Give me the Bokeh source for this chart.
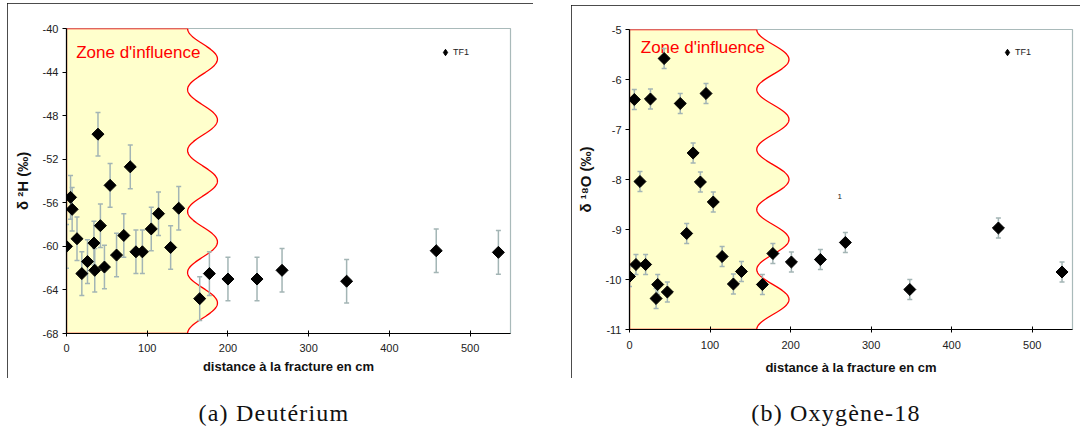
import numpy as np
from bokeh.plotting import figure
from bokeh.models import (Range1d, FixedTicker, Legend, LegendItem, Div, Spacer,
                          ColumnDataSource)
from bokeh.layouts import row, column
from bokeh.core.properties import value
from bokeh.embed import file_html
from bokeh.resources import INLINE

# ---------------- data ----------------
# (a) Deuterium
dist_a = [0, 5, 7, 13, 19, 26, 34, 35, 39, 42, 47, 54, 62, 71, 79, 86, 94, 105,
          114, 129, 139, 165, 177, 200, 236, 267, 347, 458, 535]
d2h = [-60.0, -55.5, -56.6, -59.3, -62.5, -61.4, -59.7, -62.2, -49.7, -58.1, -61.9,
       -54.4, -60.8, -59.0, -52.7, -60.5, -60.5, -58.4, -57.0, -60.1, -56.5, -64.8,
       -62.5, -63.0, -63.0, -62.2, -63.2, -60.4, -60.55]
d2h_err = 2.0

# (b) Oxygen-18
dist_b = [0, 6, 8, 13, 20, 26, 33, 35, 43, 47, 63, 71, 79, 88, 95, 104, 115, 129,
          139, 165, 178, 201, 237, 268, 348, 458, 537]
d18o = [-9.94, -6.40, -9.70, -8.04, -9.70, -6.39, -10.38, -10.10, -5.58, -10.25,
        -6.48, -9.08, -7.47, -8.05, -6.28, -8.45, -9.54, -10.09, -9.84, -10.10,
        -9.48, -9.65, -9.60, -9.26, -10.20, -8.97, -9.85]
d18o_err = 0.2

x_ticks = [0, 100, 200, 300, 400, 500]
ya_ticks = [-68, -64, -60, -56, -52, -48, -44, -40]
yb_ticks = [-11, -10, -9, -8, -7, -6, -5]

# zone d'influence boundary (decorative wavy edge)
zone_a = dict(base=150, amp=37, waves=5)
zone_b = dict(base=158, amp=40, waves=5)

FONT = "Liberation Sans"
ERR_COLOR = "#a3b5b5"
ZONE_FILL = "#FFFFCC"


def make_panel(xs, ys, err, yticks, ylabel, zone, width, height, borders,
               zone_text_pos, legend_loc, tick_standoff, label_standoff,
               extra_text=None):
    ymin, ymax = yticks[0], yticks[-1]
    p = figure(width=width, height=height, output_backend="svg", toolbar_location=None,
               x_range=Range1d(0, 550), y_range=Range1d(ymin, ymax),
               min_border_left=borders[0], min_border_right=borders[1],
               min_border_top=borders[2], min_border_bottom=borders[3])
    p.styles = {"outline": "1.6px solid #111", "outline-offset": "-1.6px"}
    p.grid.visible = False
    p.outline_line_color = "#a9baba"
    p.outline_line_width = 1.2
    p.background_fill_color = "white"
    p.border_fill_color = "white"

    # zone d'influence
    yy = np.linspace(ymax, ymin, 400)
    t = (ymax - yy) / (ymax - ymin)
    xx = zone["base"] + zone["amp"] * (1 - np.cos(2 * np.pi * zone["waves"] * t)) / 2
    px = [0] + list(xx) + [0]
    py = [ymax] + list(yy) + [ymin]
    p.patch(px, py, fill_color=ZONE_FILL, line_color="red", line_width=1.3)
    p.text(x=[zone_text_pos[0]], y=[zone_text_pos[1]], text=["Zone d'influence"],
           text_color="red", text_font=value(FONT), text_font_size="17px",
           text_baseline="middle", text_align="left")

    # error bars
    lo = [v - err for v in ys]
    hi = [v + err for v in ys]
    p.segment(x0=xs, y0=lo, x1=xs, y1=hi, line_color=ERR_COLOR, line_width=1.5)
    p.scatter(x=xs + xs, y=lo + hi, marker="dash", size=5, line_color=ERR_COLOR,
              line_width=1.5)

    src = ColumnDataSource(dict(x=xs, y=ys))
    # diamond glyph (used for the legend), covered by the rotated squares
    leg_r = p.scatter("x", "y", source=src, marker="diamond", size=8,
                      fill_color="black", line_color="black")
    p.scatter("x", "y", source=src, marker="square", angle=np.pi / 4, size=8.5,
              fill_color="black", line_color="black")

    if extra_text is not None:
        p.text(x=[extra_text[0]], y=[extra_text[1]], text=[extra_text[2]],
               text_font=value(FONT), text_font_size="8px", text_color="#222",
               text_baseline="middle", text_align="center")

    legend = Legend(items=[LegendItem(label="TF1", renderers=[leg_r])],
                    location=legend_loc, border_line_color=None,
                    background_fill_alpha=0, padding=0, margin=0, spacing=0,
                    label_text_font=FONT, label_text_font_size="9px",
                    label_text_color="#222", glyph_width=16, glyph_height=16,
                    label_standoff=0, label_height=16)
    p.add_layout(legend)

    # axes
    p.xaxis.ticker = FixedTicker(ticks=x_ticks)
    p.xaxis.major_label_overrides = {v: str(v) for v in x_ticks}
    p.yaxis.ticker = FixedTicker(ticks=yticks)
    p.yaxis.major_label_overrides = {v: str(v) for v in yticks}
    for ax in (p.xaxis[0], p.yaxis[0]):
        ax.axis_line_color = "black"
        ax.axis_line_width = 1.2
        ax.major_tick_line_color = "black"
        ax.minor_tick_line_color = None
        ax.major_label_text_font = FONT
        ax.major_label_text_font_size = "11px"
        ax.major_label_text_color = "#222"
        ax.major_label_text_line_height = 1.0
        ax.axis_label_text_font = FONT
        ax.axis_label_text_font_style = "bold"
        ax.axis_label_text_color = "#111"
        ax.axis_label_text_line_height = 1.0
    p.xaxis.major_tick_in = 3
    p.xaxis.major_tick_out = 3
    p.yaxis.major_tick_in = 0
    p.yaxis.major_tick_out = 4
    p.xaxis.major_label_standoff = tick_standoff
    p.yaxis.major_label_standoff = 4
    p.xaxis.axis_label = "distance à la fracture en cm"
    p.xaxis.axis_label_text_font_size = "13px"
    p.xaxis.axis_label_standoff = label_standoff
    p.yaxis.axis_label = ylabel
    p.yaxis.axis_label_text_font_size = "15px"
    p.yaxis.axis_label_standoff = 9
    return p


pa = make_panel(dist_a, d2h, d2h_err, ya_ticks, "δ ²H (‰)", zone_a,
                width=526, height=375, borders=(59, 23, 25, 45),
                zone_text_pos=(12, -42.2), legend_loc=(371, 273),
                tick_standoff=7, label_standoff=4)
pb = make_panel(dist_b, d18o, d18o_err, yb_ticks, "δ ¹⁸O (‰)", zone_b,
                width=509, height=373, borders=(58, 8, 24, 49),
                zone_text_pos=(14, -5.36), legend_loc=(370, 269),
                tick_standoff=8, label_standoff=8,
                extra_text=(261, -8.33, "1"))

cap_style = {"text-align": "center", "font-family": "Liberation Serif",
             "font-size": "24px", "color": "#111", "letter-spacing": "1.2px",
             "padding-top": "13px"}
cap_a = Div(text="(a) Deutérium", width=524, height=42, styles=cap_style)
cap_b = Div(text="(b) Oxygène-18", width=528, height=42, styles=cap_style)

layout = column(
    Spacer(height=3),
    row(Spacer(width=7), pa, Spacer(width=38), column(Spacer(height=2), pb)),
    row(Spacer(width=7), cap_a, Spacer(width=26), cap_b),
)

open("out.html", "w").write(file_html(layout, INLINE))
